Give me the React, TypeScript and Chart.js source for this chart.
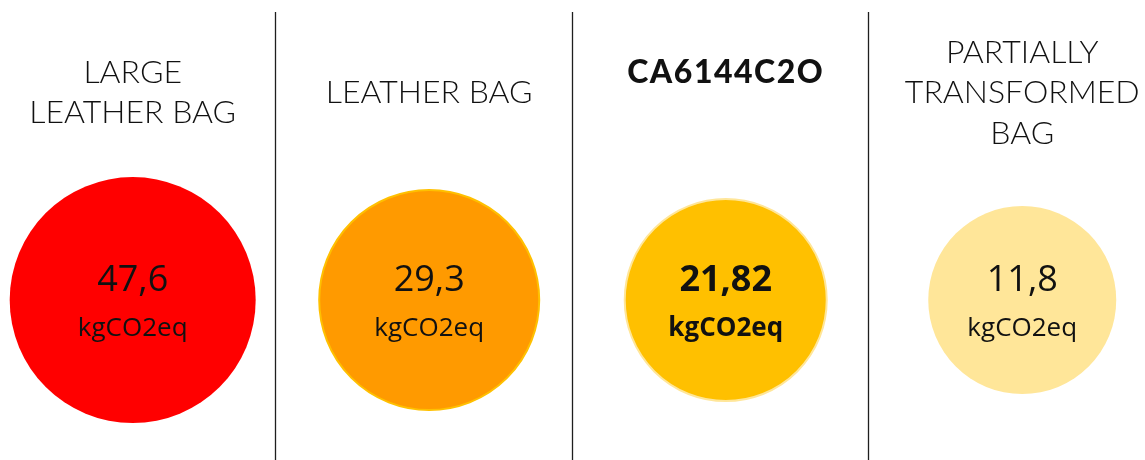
import React, { useEffect, useRef } from "react";
import { Chart, registerables } from "chart.js";

Chart.register(...registerables);

// ---- data ----
const categories: string[][] = [
  ["LARGE", "LEATHER BAG"],
  ["LEATHER BAG"],
  ["CA6144C2O", ""],
  ["PARTIALLY", "TRANSFORMED", "BAG"],
];
const values: number[] = [47.6, 29.3, 21.82, 11.8];
const unitLabel = "kgCO2eq";
const highlighted: boolean[] = [false, false, true, false];

// ---- styles ----
const fillColors = ["#FF0000", "#FF9A00", "#FFC000", "#FFE699"];
const borderColors = ["#FF0000", "#FFC000", "#FFE699", "#FFE699"];
const borderWidths = [0, 2, 2, 0];
const bubbleRadius = [123, 110, 101, 94];
const columnCenter = 0.52;

const formatValue = (v: number) => String(v).replace(".", ",");

const overlayPlugin = {
  id: "overlay",
  afterDatasetsDraw(chart: any) {
    const { ctx, chartArea, scales } = chart;
    const xs = scales.x;
    ctx.save();
    // separators
    ctx.strokeStyle = "#1e1e1e";
    ctx.lineWidth = 1.3;
    for (let i = 1; i < categories.length; i++) {
      const px = Math.round(xs.getPixelForValue(i)) + 0.5;
      ctx.beginPath();
      ctx.moveTo(px, chartArea.top);
      ctx.lineTo(px, chartArea.bottom);
      ctx.stroke();
    }
    // titles
    ctx.textAlign = "center";
    ctx.textBaseline = "alphabetic";
    ctx.fillStyle = "#111111";
    const lineH = 40.5;
    const midBaseline = 103;
    categories.forEach((lines, i) => {
      const cx = xs.getPixelForValue(i + columnCenter);
      ctx.font = highlighted[i] ? "900 32px Lato" : "300 32px Lato";
      (ctx as any).letterSpacing = highlighted[i] ? "1.5px" : "0px";
      const n = lines.length;
      lines.forEach((t, j) => {
        const y = midBaseline + (j - (n - 1) / 2) * lineH;
        ctx.fillText(t, cx, y);
      });
    });
    (ctx as any).letterSpacing = "0px";
    // values in bubbles
    const meta = chart.getDatasetMeta(0);
    meta.data.forEach((el: any, i: number) => {
      const weight = highlighted[i] ? "bold " : "";
      ctx.fillStyle = "#111111";
      ctx.font = `${weight}36px "Open Sans"`;
      ctx.fillText(formatValue(values[i]), el.x, el.y - 9);
      ctx.font = `${weight}26px "Open Sans"`;
      ctx.fillText(unitLabel, el.x, el.y + 36);
    });
    ctx.restore();
  },
};

export default function App() {
  const ref = useRef<HTMLCanvasElement>(null);
  useEffect(() => {
    document.body.style.margin = "0";
    const canvas = ref.current!;
    const chart = new Chart(canvas, {
      type: "bubble",
      data: {
        datasets: [
          {
            data: values.map((v, i) => ({ x: i + columnCenter, y: 0.357, r: bubbleRadius[i], v })),
            backgroundColor: fillColors,
            borderColor: borderColors,
            borderWidth: borderWidths,
            hoverRadius: 0,
            clip: false,
          } as any,
        ],
      },
      options: {
        animation: false,
        responsive: false,
        events: [],
        layout: { autoPadding: false, padding: { top: 12, left: 0, right: 0, bottom: 0 } },
        plugins: { legend: { display: false }, tooltip: { enabled: false } },
        scales: {
          x: { type: "linear", display: false, min: 0.0725, max: 3.934 },
          y: { type: "linear", display: false, min: 0, max: 1 },
        },
      } as any,
      plugins: [overlayPlugin],
    });
    return () => chart.destroy();
  }, []);
  return (
    <div style={{ width: 1145, height: 460, background: "#fff" }}>
      <canvas ref={ref} width={1145} height={460} />
    </div>
  );
}
